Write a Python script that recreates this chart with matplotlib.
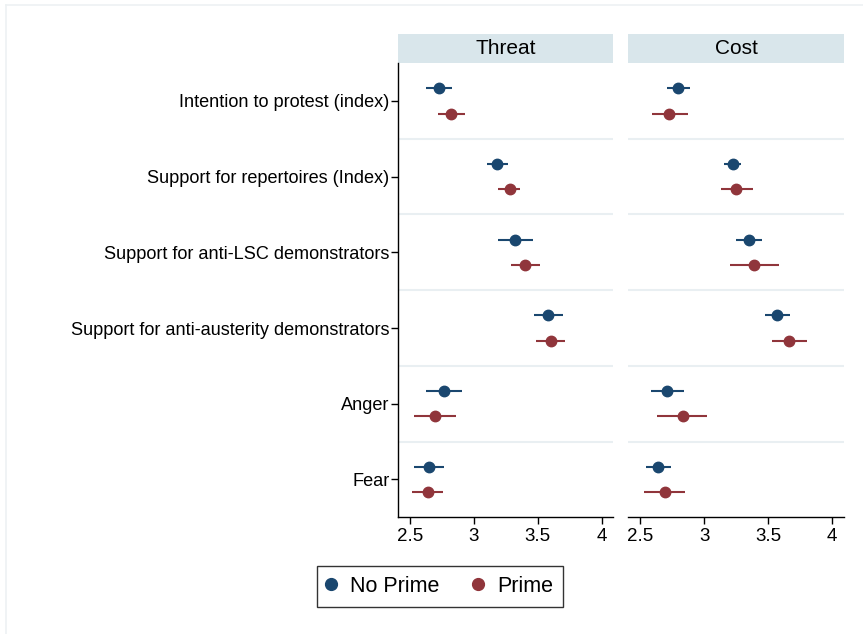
import matplotlib.pyplot as plt
from matplotlib.lines import Line2D
from matplotlib.patches import Rectangle
import numpy as np

plt.rcParams['font.family'] = ['Liberation Sans', 'DejaVu Sans']

outcomes = [
    'Intention to protest (index)',
    'Support for repertoires (Index)',
    'Support for anti-LSC demonstrators',
    'Support for anti-austerity demonstrators',
    'Anger',
    'Fear',
]
panels = ['Threat', 'Cost']
groups = ['No Prime', 'Prime']

# Threat condition: means and 95% CI bounds
threat_np_mean = [2.73, 3.18, 3.32, 3.58, 2.77, 2.65]
threat_np_lo = [2.63, 3.10, 3.19, 3.47, 2.63, 2.53]
threat_np_hi = [2.83, 3.27, 3.46, 3.70, 2.91, 2.77]
threat_p_mean = [2.82, 3.28, 3.40, 3.60, 2.70, 2.64]
threat_p_lo = [2.72, 3.19, 3.29, 3.49, 2.53, 2.52]
threat_p_hi = [2.93, 3.36, 3.52, 3.71, 2.86, 2.76]

# Cost condition
cost_np_mean = [2.79, 3.22, 3.35, 3.57, 2.71, 2.64]
cost_np_lo = [2.71, 3.15, 3.25, 3.47, 2.58, 2.54]
cost_np_hi = [2.89, 3.29, 3.45, 3.67, 2.84, 2.74]
cost_p_mean = [2.72, 3.25, 3.39, 3.66, 2.83, 2.69]
cost_p_lo = [2.59, 3.13, 3.20, 3.53, 2.63, 2.53]
cost_p_hi = [2.87, 3.38, 3.58, 3.80, 3.02, 2.85]

xticks = [2.5, 3, 3.5, 4]
xticklabels = ['2.5', '3', '3.5', '4']

data = {
    'Threat': [(threat_np_mean, threat_np_lo, threat_np_hi),
               (threat_p_mean, threat_p_lo, threat_p_hi)],
    'Cost': [(cost_np_mean, cost_np_lo, cost_np_hi),
             (cost_p_mean, cost_p_lo, cost_p_hi)],
}

colors = ['#1a476f', '#90353b']
offsets = [-0.167, 0.167]
strip_color = '#d9e6eb'

W, H = 863, 634
fig = plt.figure(figsize=(W / 100, H / 100), dpi=100)

# faint outer frame
fig.add_artist(Line2D([6 / W, 1], [1 - 5 / H, 1 - 5 / H], color='#edf1f3', lw=1.2))
fig.add_artist(Line2D([6 / W, 6 / W], [0, 1 - 5 / H], color='#edf1f3', lw=1.2))

ax_bottom = 1 - 517.3 / H
ax_height = (517.3 - 63) / H
lefts = [397.7 / W, 628.3 / W]
width = 215.5 / W

rows = np.arange(len(outcomes))
axes = []
for k, panel in enumerate(panels):
    ax = fig.add_axes([lefts[k], ax_bottom, width, ax_height])
    axes.append(ax)
    for g, (mean, lo, hi) in enumerate(data[panel]):
        mean = np.array(mean)
        err = [mean - np.array(lo), np.array(hi) - mean]
        ax.errorbar(mean, rows + offsets[g], xerr=err, fmt='o', color=colors[g],
                    ms=7.5, elinewidth=1.5, capsize=0, zorder=3)
    for i in range(len(outcomes) - 1):
        ax.axhline(i + 0.5, color='#e9eff2', lw=1.5, zorder=1)
    ax.set_xlim(2.405, 4.09)
    ax.set_ylim(len(outcomes) - 0.5, -0.5)
    ax.set_xticks(xticks)
    ax.set_xticklabels(xticklabels, fontsize=13.5)
    ax.tick_params(axis='x', direction='out', length=5, width=1, pad=3)
    for s in ['top', 'right']:
        ax.spines[s].set_visible(False)
    ax.spines['bottom'].set_linewidth(1)
    if k == 0:
        ax.set_yticks(rows)
        ax.set_yticklabels(outcomes, fontsize=13.1)
        ax.tick_params(axis='y', direction='out', length=5, width=1, pad=1)
        ax.spines['left'].set_linewidth(1)
    else:
        ax.set_yticks([])
        ax.spines['left'].set_visible(False)
    # panel header strip
    ax.add_patch(Rectangle((0, 1.0), 1, 29 / 454, transform=ax.transAxes,
                           facecolor=strip_color, edgecolor='none', clip_on=False))
    ax.text(0.5, 1.0 + 14.5 / 454, panel, transform=ax.transAxes,
            ha='center', va='center', fontsize=15)

handles = [Line2D([], [], marker='o', ls='none', color=c, ms=8.5) for c in colors]
fig.legend(handles, groups, loc='center', bbox_to_anchor=(440 / W, 1 - 586.5 / H),
           ncol=2, fontsize=15.5, frameon=True, fancybox=False, edgecolor='black',
           handletextpad=0.68, columnspacing=1.57, borderpad=0.45, handlelength=0.4)

fig.savefig('out.png', dpi=100, facecolor='white')
